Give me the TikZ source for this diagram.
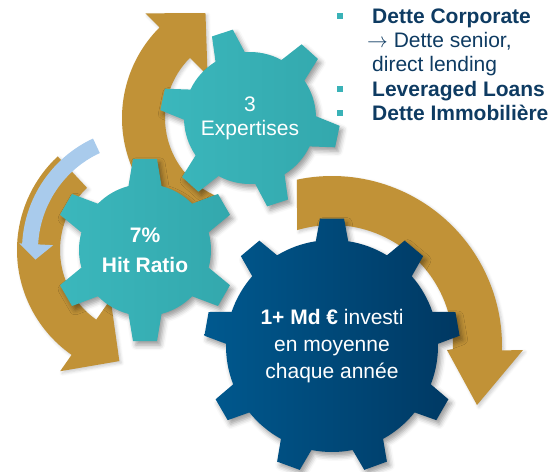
\documentclass[tikz,border=0pt]{standalone}
\usepackage{fontspec}
\setmainfont{Liberation Sans}
\usetikzlibrary{shadows.blur}
\definecolor{arrowgold}{HTML}{C19237}
\definecolor{tealleft}{HTML}{3BB7BC}
\definecolor{tealright}{HTML}{33A8AD}
\definecolor{navyleft}{HTML}{00598F}
\definecolor{navyright}{HTML}{003862}
\definecolor{paleblue}{HTML}{A9CBEC}
\definecolor{listblue}{HTML}{0E3B62}
\definecolor{bulletteal}{HTML}{3AB2B7}
\newcommand{\listfont}{\fontsize{21}{24}\selectfont}
% teeth, first tooth angle, body radius, tip radius, half angle at base, half angle at tip
\newcommand{\gearpath}[6]{({#2-#5}:#3)
  \foreach \k [evaluate=\k as \a using #2+(\k-1)*360/#1] in {1,...,#1}{
    -- ({\a-#6}:#4) -- ({\a+#6}:#4) -- ({\a+#5}:#3)
    arc[start angle=\a+#5, end angle=\a+360/#1-#5, radius=#3]}
  -- cycle}
\def\goldarrow{\fill[arrowgold,arrowshadow]}

\begin{document}
\begin{tikzpicture}[x=1pt,y=1pt,
  gearshadow/.style={blur shadow={shadow xshift=3pt,shadow yshift=-4pt,shadow blur radius=5pt,shadow opacity=40}},
  arrowshadow/.style={blur shadow={shadow xshift=2pt,shadow yshift=-2pt,shadow blur radius=3pt,shadow opacity=20}},
  tealgear/.style={left color=tealleft,right color=tealright,gearshadow},
  navygear/.style={left color=navyleft,right color=navyright,gearshadow},
  geartext/.style={text=white,align=center,inner sep=0pt},
  listtext/.style={text=listblue,anchor=base west,font=\listfont,inner sep=0pt},
  bullet/.style={fill=bulletteal,inner sep=0pt,minimum size=6pt}]
\useasboundingbox (0,0) rectangle (553,471);
\coordinate (top) at (250,353);
\coordinate (hit) at (145,221);
\coordinate (big) at (332,125);

% arrows round the gears
\begin{scope}[shift={(top)}]
\goldarrow (248:85) arc[start angle=248,end angle=135,radius=85] -- (135:60) -- (113:114)
  -- (135:148) -- (135:128) arc[start angle=135,end angle=248,radius=128] -- cycle;
\end{scope}
\begin{scope}[shift={(hit)}]
\goldarrow (133:85) arc[start angle=133,end angle=235,radius=85] -- (235:60) -- (257:114)
  -- (235:148) -- (235:128) arc[start angle=235,end angle=133,radius=128] -- cycle;
\fill[paleblue] (115:107) arc[start angle=115,end angle=177,radius=107] -- (177:92) -- (185:110)
  -- (177:126) -- (177:123) arc[start angle=177,end angle=115,radius=123] -- cycle;
\end{scope}
\begin{scope}[shift={(big)}]
\goldarrow (101.9:170) arc[start angle=101.9,end angle=-1.5,radius=170] -- (191,-4) -- (145,-59)
  -- (115,-4) -- (-1.5:121) arc[start angle=-1.5,end angle=106.8,radius=121] -- cycle;
\end{scope}

% gears
\begin{scope}[shift={(top)}]
\path[tealgear] \gearpath{6}{108}{66}{90}{13.5}{7};
\end{scope}
\begin{scope}[shift={(hit)}]
\path[tealgear] \gearpath{6}{90}{66}{92}{14.5}{7.5};
\end{scope}
\begin{scope}[shift={(big)}]
\path[navygear] \gearpath{9}{90}{106}{128}{8.8}{5.4};
\end{scope}

\node[geartext,font=\fontsize{21}{24}\selectfont] (expertises) at (top) {3\\Expertises};
\node[geartext,font=\fontsize{21}{30}\selectfont\bfseries] (hitratio) at (hit) {7\%\\Hit Ratio};
\node[geartext,font=\fontsize{21}{27}\selectfont] (investi) at (big) {\textbf{1+ Md €} investi\\en moyenne\\chaque année};

% list
\node[bullet] (b1) at (340,455) {};
\node[bullet] (b2) at (340,382) {};
\node[bullet] (b3) at (340,358) {};
\node[listtext,font=\listfont\bfseries] (corporate) at (372,447) {Dette Corporate};
\node[listtext] (senior) at (367,423) {$\rightarrow$ Dette senior,};
\node[listtext] (lending) at (372,399) {direct lending};
\node[listtext,font=\listfont\bfseries] (leveraged) at (372,374) {Leveraged Loans};
\node[listtext,font=\listfont\bfseries] (immo) at (372,350) {Dette Immobilière};
\end{tikzpicture}
\end{document}
